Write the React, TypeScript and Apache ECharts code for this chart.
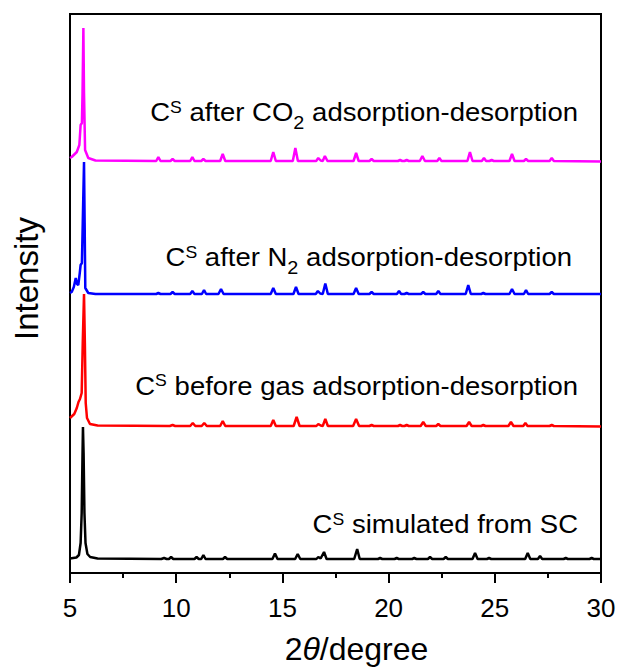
import React, { useEffect, useRef } from "react";
import * as echarts from "echarts";

// 2θ range and ticks
const xMin = 5;
const xMax = 30;
const xInterval = 5;

// Series names (bottom to top)
const seriesNames = [
  "CS simulated from SC",
  "CS before gas adsorption-desorption",
  "CS after N2 adsorption-desorption",
  "CS after CO2 adsorption-desorption",
];
const seriesColors = ["#000000", "#ff0000", "#0000ff", "#ff00ff"];

// [2θ, intensity (offset, a.u.)]
const simulated: number[][] = [
  [5.0, 14.5], [5.3, 15.5], [5.42, 18], [5.5, 30], [5.55, 60], [5.59, 120], [5.61, 146], [5.64, 120], [5.68, 60], [5.73, 30], [5.82, 19], [5.95, 16], [6.3, 14.5], [9.3, 14],
  [9.43, 15], [9.55, 14], [9.66, 14], [9.76, 16], [9.86, 14],
  [10.86, 14], [10.96, 16], [11.06, 14], [11.18, 14], [11.28, 18], [11.38, 14],
  [12.2, 14], [12.3, 16], [12.4, 14],
  [14.53, 14], [14.65, 19.5], [14.77, 14],
  [15.6, 14], [15.72, 19], [15.84, 14],
  [16.6, 14], [16.69, 16], [16.8, 14.5], [16.96, 21], [17.08, 14],
  [18.38, 14], [18.52, 24], [18.64, 14],
  [19.5, 14], [19.6, 15], [19.7, 14],
  [20.28, 14], [20.38, 15], [20.48, 14],
  [21.11, 14], [21.21, 15], [21.31, 14],
  [21.85, 14], [21.95, 16], [22.05, 14],
  [22.59, 14], [22.69, 16], [22.79, 14],
  [23.95, 14], [24.07, 20], [24.19, 14],
  [24.63, 14], [24.73, 15], [24.83, 14],
  [26.43, 14], [26.55, 20], [26.67, 14],
  [27.03, 14], [27.13, 17], [27.23, 14],
  [28.24, 14], [28.34, 15], [28.44, 14],
  [29.46, 14], [29.56, 15], [29.66, 14], [30, 14],
];

const beforeGas: number[][] = [
  [5.0, 155], [5.05, 156], [5.2, 159], [5.32, 165], [5.4, 171], [5.47, 174], [5.55, 180], [5.6, 230], [5.66, 279], [5.7, 230], [5.74, 170], [5.8, 155], [5.94, 149], [6.3, 147.5], [9.7, 147],
  [9.83, 148], [9.95, 147],
  [10.66, 147], [10.78, 150], [10.9, 147],
  [11.2, 147], [11.32, 150], [11.44, 147],
  [12.07, 147], [12.19, 152], [12.31, 147],
  [14.45, 147], [14.57, 153], [14.69, 147],
  [15.53, 147], [15.67, 156], [15.81, 147],
  [16.6, 147], [16.69, 149], [16.8, 147.5], [16.9, 147], [17.02, 154], [17.14, 147],
  [18.33, 147], [18.47, 154], [18.61, 147],
  [19.1, 147], [19.2, 148], [19.3, 147],
  [20.44, 147], [20.54, 148], [20.64, 147], [20.75, 147], [20.85, 148], [20.95, 147],
  [21.51, 147], [21.63, 151], [21.75, 147],
  [22.24, 147], [22.34, 149], [22.44, 147],
  [23.67, 147], [23.79, 151], [23.91, 147],
  [24.36, 147], [24.46, 148], [24.56, 147],
  [25.64, 147], [25.76, 151], [25.88, 147],
  [26.34, 147], [26.44, 150], [26.54, 147],
  [27.58, 147], [27.68, 148], [27.78, 147], [30, 146.5],
];

const afterN2: number[][] = [
  [5.0, 280], [5.08, 281], [5.18, 286], [5.27, 295], [5.33, 289], [5.39, 288], [5.46, 300], [5.5, 308], [5.56, 310], [5.6, 350], [5.66, 411], [5.69, 350], [5.72, 285], [5.86, 280], [6.2, 279],
  [9.06, 279], [9.16, 280], [9.26, 279],
  [9.73, 279], [9.83, 281], [9.93, 279],
  [10.66, 279], [10.76, 282], [10.86, 279],
  [11.21, 279], [11.31, 283], [11.41, 279],
  [11.99, 279], [12.11, 284], [12.23, 279],
  [14.45, 279], [14.57, 285], [14.69, 279],
  [15.52, 279], [15.64, 286], [15.76, 279],
  [16.57, 279], [16.67, 282], [16.78, 279.5], [16.9, 279], [17.02, 289.5], [17.14, 279],
  [18.35, 279], [18.47, 285], [18.59, 279],
  [19.1, 279], [19.2, 281], [19.3, 279],
  [20.39, 279], [20.49, 282], [20.59, 279],
  [20.75, 279], [20.85, 280], [20.95, 279],
  [21.53, 279], [21.63, 281], [21.73, 279],
  [22.24, 279], [22.34, 282], [22.44, 279],
  [23.63, 279], [23.75, 288], [23.87, 279],
  [24.36, 279], [24.46, 280], [24.56, 279],
  [25.69, 279], [25.81, 284], [25.93, 279],
  [26.37, 279], [26.47, 283], [26.57, 279],
  [27.58, 279], [27.68, 281], [27.78, 279], [30, 279],
];

const afterCO2: number[][] = [
  [5.0, 415], [5.08, 416], [5.32, 421], [5.44, 428], [5.5, 448], [5.56, 450], [5.59, 480], [5.63, 545], [5.66, 480], [5.71, 423], [5.86, 415], [6.2, 412.5],
  [9.06, 412], [9.16, 416], [9.26, 412],
  [9.73, 412], [9.83, 414], [9.93, 412],
  [10.66, 412], [10.76, 416], [10.86, 412],
  [11.18, 412], [11.28, 414], [11.38, 412],
  [12.07, 412], [12.19, 419], [12.31, 412],
  [14.45, 412], [14.57, 421], [14.69, 412],
  [15.49, 412], [15.61, 425], [15.73, 412],
  [16.59, 412], [16.69, 415], [16.8, 412.5], [16.9, 412], [17.0, 417], [17.12, 412],
  [18.35, 412], [18.47, 420], [18.59, 412],
  [19.1, 412], [19.2, 414], [19.3, 412],
  [20.44, 412], [20.54, 413], [20.64, 412], [20.75, 412], [20.85, 413], [20.95, 412],
  [21.47, 412], [21.59, 417], [21.71, 412],
  [22.29, 412], [22.39, 415], [22.49, 412],
  [23.71, 412], [23.83, 421], [23.95, 412],
  [24.39, 412], [24.49, 415], [24.59, 412], [24.75, 412], [24.85, 413], [24.95, 412],
  [25.69, 412], [25.81, 419], [25.93, 412],
  [26.37, 412], [26.47, 414], [26.57, 412],
  [27.58, 412], [27.68, 415], [27.78, 412], [30, 411.5],
];

const allSeries = [simulated, beforeGas, afterN2, afterCO2];

// Annotation rich-text labels (top to bottom in the plot)
const labelTexts = [
  "{m|C}{sup|S}{m| after CO}{sub|2}{m| adsorption-desorption}",
  "{m|C}{sup|S}{m| after N}{sub|2}{m| adsorption-desorption}",
  "{m|C}{sup|S}{m| before gas adsorption-desorption}",
  "{m|C}{sup|S}{m| simulated from SC}",
];
const labelRight = [578, 572, 578, 578];
const labelY = [112.5, 257.5, 386, 524.5];

const FONT = "'Liberation Sans', Arial, Helvetica, sans-serif";

export default function App() {
  const ref = useRef<HTMLDivElement>(null);

  useEffect(() => {
    document.body.style.margin = "0";
    if (!ref.current) return;
    const chart = echarts.init(ref.current, undefined, { renderer: "svg" });

    const rich = {
      m: { fontSize: 25, fontFamily: FONT, color: "#000" },
      sup: { fontSize: 16, fontFamily: FONT, color: "#000", padding: [0, 0, 10, 0] },
      sub: { fontSize: 18, fontFamily: FONT, color: "#000", padding: [20, 0, 0, 0] },
    };

    chart.setOption({
      animation: false,
      backgroundColor: "#ffffff",
      grid: {
        left: 70,
        right: 18,
        top: 14,
        bottom: 98,
        show: true,
        borderColor: "#000",
        borderWidth: 2,
        containLabel: false,
      },
      xAxis: {
        type: "value",
        min: xMin,
        max: xMax,
        interval: xInterval,
        axisLine: { show: true, onZero: false, lineStyle: { color: "#000", width: 2 } },
        axisTick: { show: true, length: 10, lineStyle: { color: "#000", width: 2 } },
        minorTick: { show: true, splitNumber: 2, length: 5, lineStyle: { color: "#000", width: 2 } },
        splitLine: { show: false },
        minorSplitLine: { show: false },
        axisLabel: { fontSize: 26, color: "#000", margin: 22, fontFamily: FONT },
        name: "2{it|θ}/degree",
        nameLocation: "middle",
        nameGap: 60,
        nameTextStyle: {
          fontSize: 32,
          color: "#000",
          fontFamily: FONT,
          padding: [0, 0, 0, 42],
          rich: {
            it: { fontSize: 32, color: "#000", fontFamily: FONT, fontStyle: "italic" },
          },
        },
      },
      yAxis: {
        type: "value",
        min: 0,
        max: 559,
        axisLine: { show: true, lineStyle: { color: "#000", width: 2 } },
        axisTick: { show: false },
        axisLabel: { show: false },
        splitLine: { show: false },
        name: "Intensity",
        nameLocation: "middle",
        nameGap: 27,
        nameTextStyle: { fontSize: 33, color: "#000", fontFamily: FONT, padding: [0, 0, 0, 30] },
      },
      series: allSeries.map((d, i) => ({
        name: seriesNames[i],
        type: "line",
        data: d,
        showSymbol: false,
        symbol: "none",
        lineStyle: { color: seriesColors[i], width: 2.5 },
        itemStyle: { color: seriesColors[i] },
        z: 2 + i,
      })),
      graphic: labelTexts.map((t, i) => ({
        type: "text",
        x: labelRight[i],
        y: labelY[i],
        scaleX: 1.1,
        scaleY: 1,
        z: 100,
        style: {
          text: t,
          rich,
          align: "right",
          verticalAlign: "middle",
          fontSize: 25,
          fontFamily: FONT,
          fill: "#000",
        },
      })),
    });

    return () => {
      chart.dispose();
    };
  }, []);

  return <div ref={ref} style={{ width: 619, height: 671 }} />;
}
